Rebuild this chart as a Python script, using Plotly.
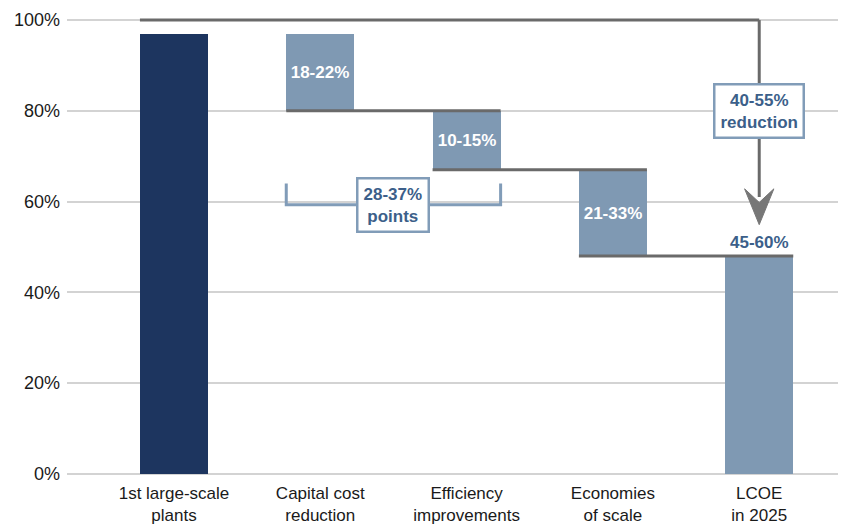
import plotly.graph_objects as go

# ---- data ----
categories = ["1st large-scale<br>plants", "Capital cost<br>reduction", "Efficiency<br>improvements",
              "Economies<br>of scale", "LCOE<br>in 2025"]
start_level = 97
reductions = [17, 13, 19]          # drop of each step (percentage points)
step_labels = ["18-22%", "10-15%", "21-33%"]
final_label = "45-60%"
total_label = "40-55%<br>reduction"
bracket_label = "28-37%<br>points"
y_ticks = [0, 20, 40, 60, 80, 100]
y_ticktext = ["0%", "20%", "40%", "60%", "80%", "100%"]

# ---- derived waterfall ----
levels = [start_level]
for r in reductions:
    levels.append(levels[-1] - r)
final_level = levels[-1]
bases = [0] + levels[1:] + [0]
heights = [start_level] + reductions + [final_level]
xs = list(range(len(categories)))
texts = [""] + step_labels + [""]

DARK = "#1d355f"
LIGHT = "#7f99b3"
GREY = "#6a6a6a"
BOXC = "#819cb8"
TXTC = "#3c5f8a"
W = 0.465
FONT = "Liberation Sans, Arial"

fig = go.Figure()
fig.add_trace(go.Bar(
    x=xs, y=heights, base=bases, width=W,
    marker=dict(color=[DARK, LIGHT, LIGHT, LIGHT, LIGHT], line=dict(width=0)),
    text=texts, textposition="inside", insidetextanchor="middle",
    textfont=dict(family=FONT, size=17, color="white", weight="bold"),
    textangle=0, hoverinfo="skip", showlegend=False,
))

shapes = []
# top line at 100% from first bar to last bar centre, then arrow down
shapes.append(dict(type="line", xref="x", yref="y", x0=xs[0] - W / 2, x1=xs[-1], y0=100, y1=100,
                   line=dict(color=GREY, width=3)))
shapes.append(dict(type="line", xref="x", yref="y", x0=xs[-1], x1=xs[-1], y0=100, y1=61,
                   line=dict(color=GREY, width=3)))
# arrowhead
ax = xs[-1]
shapes.append(dict(type="path", xref="x", yref="y",
                   path=f"M {ax-0.1},62.8 L {ax},54.9 L {ax+0.1},62.8 L {ax},59.8 Z",
                   fillcolor="#777777", line=dict(color="#777777", width=1)))
# connector lines between steps
for i in range(1, len(categories) - 1):
    lvl = levels[i]
    shapes.append(dict(type="line", xref="x", yref="y", x0=xs[i] - W / 2, x1=xs[i + 1] + W / 2,
                       y0=lvl, y1=lvl, line=dict(color=GREY, width=3)))
# bracket under capital + efficiency
bl, br = xs[1] - W / 2, xs[2] + W / 2
shapes.append(dict(type="path", xref="x", yref="y",
                   path=f"M {bl},64 L {bl},59.3 L {br},59.3 L {br},64",
                   line=dict(color=BOXC, width=3)))

annotations = [
    dict(x=(xs[1] + xs[2]) / 2, y=59.3, xref="x", yref="y", text=bracket_label, showarrow=False,
         font=dict(family=FONT, size=17, color=TXTC, weight="bold"),
         bgcolor="white", bordercolor=BOXC, borderwidth=2.5, borderpad=5),
    dict(x=xs[-1], y=80, xref="x", yref="y", text=total_label, showarrow=False,
         font=dict(family=FONT, size=17, color=TXTC, weight="bold"),
         bgcolor="white", bordercolor=BOXC, borderwidth=2.5, borderpad=5),
    dict(x=xs[-1], y=final_level, xref="x", yref="y", text=final_label, showarrow=False,
         yanchor="bottom", yshift=2,
         font=dict(family=FONT, size=17, color=TXTC, weight="bold")),
]

fig.update_layout(
    width=838, height=519,
    margin=dict(l=59, r=0, t=3, b=51, autoexpand=False),
    plot_bgcolor="white", paper_bgcolor="white",
    shapes=shapes, annotations=annotations,
    bargap=0,
    xaxis=dict(range=[-0.731, 4.593], tickmode="array", tickvals=xs, ticktext=categories,
               showgrid=False, zeroline=False, showline=False, ticks="", ticklabelstandoff=5,
               automargin=False,
               tickfont=dict(family=FONT, size=17, color="#1a1a1a")),
    yaxis=dict(range=[-0.5, 102], tickmode="array", tickvals=y_ticks, ticktext=y_ticktext,
               showgrid=True, gridcolor="#d3d3d3", gridwidth=1.5, zeroline=False, showline=False,
               ticks="", ticklabelstandoff=6, automargin=False,
               tickfont=dict(family=FONT, size=18, color="#1a1a1a")),
)

fig.write_html("out.html")
